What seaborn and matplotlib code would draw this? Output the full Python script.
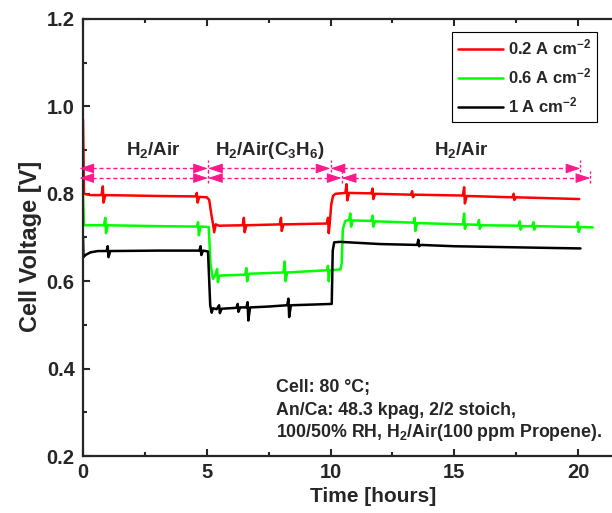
import matplotlib
matplotlib.use("Agg")
import matplotlib.pyplot as plt
from matplotlib.ticker import MultipleLocator, FormatStrFormatter
import seaborn as sns
import pandas as pd

# ---------------- data ----------------
series_names = ["0.2 A cm$^{-2}$", "0.6 A cm$^{-2}$", "1 A cm$^{-2}$"]
series_colors = ["#FF0000", "#00FF00", "#000000"]

red_t = [0.0, 0.04, 0.3, 0.75, 0.8, 0.83, 0.9, 2.0, 3.0, 4.55, 4.6, 4.63, 4.7, 5.0,
         5.1, 5.18, 5.25, 5.3, 5.36, 5.5, 6.45, 6.5, 6.53, 6.6, 7.95, 8.0, 8.03, 8.1,
         9.85, 9.9, 9.93, 9.97, 10.03, 10.1, 10.2, 10.6, 10.65, 10.68, 10.75, 11.65,
         11.7, 11.73, 11.8, 13.25, 13.3, 13.33, 13.4, 15.35, 15.4, 15.43, 15.5, 17.35,
         17.4, 17.43, 17.5, 20.05]
red_v = [0.97, 0.80, 0.797, 0.797, 0.817, 0.78, 0.797, 0.796, 0.795, 0.794, 0.802, 0.78,
         0.793, 0.792, 0.786, 0.755, 0.732, 0.712, 0.73, 0.727, 0.728, 0.745, 0.712, 0.728,
         0.730, 0.745, 0.715, 0.730, 0.732, 0.745, 0.710, 0.733, 0.775, 0.795, 0.800, 0.802,
         0.822, 0.785, 0.802, 0.801, 0.812, 0.788, 0.800, 0.798, 0.806, 0.792, 0.798, 0.796,
         0.815, 0.778, 0.795, 0.792, 0.800, 0.786, 0.792, 0.788]

green_t = [0.0, 0.04, 0.85, 0.9, 0.93, 1.0, 3.0, 4.6, 4.65, 4.68, 4.75, 5.08, 5.15, 5.25,
           5.35, 5.42, 5.45, 5.5, 5.6, 6.55, 6.6, 6.63, 6.7, 8.1, 8.15, 8.18, 8.25, 9.85,
           9.9, 9.93, 9.97, 10.4, 10.45, 10.5, 10.6, 10.75, 10.8, 10.83, 10.9, 11.65, 11.7,
           11.73, 11.8, 13.35, 13.4, 13.43, 13.5, 15.35, 15.4, 15.43, 15.5, 15.95, 16.0,
           16.03, 16.1, 17.6, 17.65, 17.68, 17.75, 18.15, 18.2, 18.23, 18.3, 19.95, 20.0,
           20.03, 20.1, 20.6]
green_v = [0.80, 0.728, 0.728, 0.745, 0.710, 0.728, 0.726, 0.725, 0.735, 0.705, 0.725, 0.724,
           0.640, 0.605, 0.615, 0.628, 0.598, 0.612, 0.613, 0.615, 0.630, 0.600, 0.617, 0.620,
           0.645, 0.600, 0.620, 0.625, 0.635, 0.600, 0.625, 0.627, 0.640, 0.720, 0.738, 0.740,
           0.755, 0.725, 0.739, 0.738, 0.750, 0.725, 0.737, 0.734, 0.745, 0.715, 0.733, 0.730,
           0.755, 0.720, 0.730, 0.729, 0.740, 0.720, 0.728, 0.727, 0.737, 0.718, 0.726, 0.726,
           0.735, 0.718, 0.726, 0.724, 0.735, 0.713, 0.724, 0.723]

black_t = [0.0, 0.02, 0.1, 0.3, 0.6, 0.95, 1.0, 1.03, 1.1, 3.0, 4.7, 4.75, 4.78, 4.85, 5.05,
           5.1, 5.14, 5.2, 5.25, 5.4, 5.5, 5.53, 5.6, 6.2, 6.25, 6.28, 6.35, 6.6, 6.65, 6.68,
           6.75, 7.5, 8.25, 8.3, 8.33, 8.4, 9.0, 10.05, 10.09, 10.15, 10.4, 12.0, 13.5, 13.55,
           13.58, 13.65, 15.0, 17.0, 19.0, 20.1]
black_v = [0.70, 0.655, 0.660, 0.666, 0.669, 0.669, 0.680, 0.655, 0.669, 0.670, 0.670, 0.680,
           0.660, 0.670, 0.668, 0.600, 0.545, 0.528, 0.538, 0.536, 0.545, 0.527, 0.537, 0.539,
           0.548, 0.530, 0.540, 0.540, 0.552, 0.510, 0.540, 0.542, 0.545, 0.560, 0.518, 0.545,
           0.546, 0.548, 0.670, 0.689, 0.690, 0.685, 0.683, 0.695, 0.680, 0.683, 0.680, 0.678,
           0.676, 0.675]

# condition bands (boundaries in hours) and their labels
top_bounds = [0.0, 5.05, 10.0, 20.1]
bot_bounds = [0.0, 5.05, 10.45, 20.5]
band_labels = ["H$_2$/Air", "H$_2$/Air(C$_3$H$_6$)", "H$_2$/Air"]
band_label_x = [2.85, 7.55, 15.3]

note_lines = ["Cell: 80 \u00b0C;",
              "An/Ca: 48.3 kpag, 2/2 stoich,",
              "100/50% RH, H$_2$/Air(100 ppm Propene)."]

x_ticks = [0, 5, 10, 15, 20]
y_ticks = [0.2, 0.4, 0.6, 0.8, 1.0, 1.2]

# ---------------- style ----------------
sns.set_style("ticks")
plt.rcParams["font.family"] = ["Liberation Sans", "DejaVu Sans"]
plt.rcParams["font.weight"] = "bold"
plt.rcParams["mathtext.fontset"] = "custom"
plt.rcParams["mathtext.rm"] = "Liberation Sans:bold"
plt.rcParams["mathtext.it"] = "Liberation Sans:bold"
plt.rcParams["mathtext.bf"] = "Liberation Sans:bold"
plt.rcParams["mathtext.sf"] = "Liberation Sans:bold"
plt.rcParams["mathtext.default"] = "rm"

df = pd.concat([
    pd.DataFrame({"t": red_t, "v": red_v, "s": series_names[0]}),
    pd.DataFrame({"t": green_t, "v": green_v, "s": series_names[1]}),
    pd.DataFrame({"t": black_t, "v": black_v, "s": series_names[2]}),
], ignore_index=True)

fig = plt.figure(figsize=(6.12, 5.13), dpi=100)
xmax = 21.5
ax = fig.add_axes([83 / 612, 57 / 513, (xmax * 24.75) / 612, 437 / 513])

sns.lineplot(data=df, x="t", y="v", hue="s", hue_order=series_names,
             palette=dict(zip(series_names, series_colors)), estimator=None,
             sort=False, linewidth=1.8, ax=ax, legend=False)

ax.set_xlim(0, xmax)
ax.set_ylim(0.2, 1.2)
ax.set_xticks(x_ticks)
ax.set_yticks(y_ticks)
ax.xaxis.set_minor_locator(MultipleLocator(2.5))
ax.yaxis.set_minor_locator(MultipleLocator(0.1))
ax.yaxis.set_major_formatter(FormatStrFormatter("%.1f"))
ax.tick_params(which="both", direction="in", top=True, right=False, width=1.5,
               labelsize=14.5)
ax.tick_params(which="major", length=5)
ax.tick_params(which="minor", length=3)
ax.tick_params(axis="y", pad=6)
ax.tick_params(axis="x", pad=5)
for sp in ax.spines.values():
    sp.set_linewidth(1.6)
ax.spines["right"].set_visible(False)

ax.set_xlabel("Time [hours]", fontsize=15, fontweight="bold")
ax.set_ylabel("Cell Voltage [V]", fontsize=17, fontweight="bold")
ax.xaxis.set_label_coords(0.545, -0.072)
ax.yaxis.set_label_coords(-0.077, 0.48)

# legend
handles = [plt.Line2D([], [], color=c, lw=1.8) for c in series_colors]
leg = ax.legend(handles, series_names, loc="upper left",
                bbox_to_anchor=(452 / 612, 1 - 32 / 513), bbox_transform=fig.transFigure,
                borderaxespad=0, fontsize=12, frameon=True, fancybox=False,
                edgecolor="black", framealpha=1, handlelength=2.7, handletextpad=0.3,
                labelspacing=0.55, borderpad=0.35)
leg.get_frame().set_linewidth(0.8)
for t in leg.get_texts():
    t.set_fontweight("bold")

# condition arrows
pink = "#FF1A8C"
y_top, y_bot = 0.858, 0.836
head = dict(arrowstyle="-|>,head_length=0.9,head_width=0.3", color=pink, lw=0.8,
            shrinkA=0, shrinkB=0)
d = 0.5
for bounds, y, vtop, vbot in [(top_bounds, y_top, 0.877, 0.850),
                              (bot_bounds, y_bot, 0.852, 0.824)]:
    for i in range(len(bounds) - 1):
        a, b = bounds[i], bounds[i + 1]
        a_tip = a - 0.15 if i == 0 else a
        ax.plot([a_tip + d, b - d], [y, y], color=pink, lw=1.0, dashes=(3, 2),
                clip_on=False)
        ax.annotate("", xy=(a_tip, y), xytext=(a_tip + d, y), arrowprops=head,
                    annotation_clip=False)
        ax.annotate("", xy=(b, y), xytext=(b - d, y), arrowprops=head,
                    annotation_clip=False)
    for b in bounds[1:]:
        ax.plot([b, b], [vbot, vtop], color=pink, lw=1.0, dashes=(2, 1.5))

for lab, x in zip(band_labels, band_label_x):
    ax.text(x, 0.888, lab, ha="center", va="baseline", fontsize=13.5,
            fontweight="bold")

for line, y in zip(note_lines, [0.346, 0.294, 0.243]):
    ax.text(7.8, y, line, ha="left", va="baseline", fontsize=12.8, fontweight="bold")

fig.savefig("out.png", dpi=100)
